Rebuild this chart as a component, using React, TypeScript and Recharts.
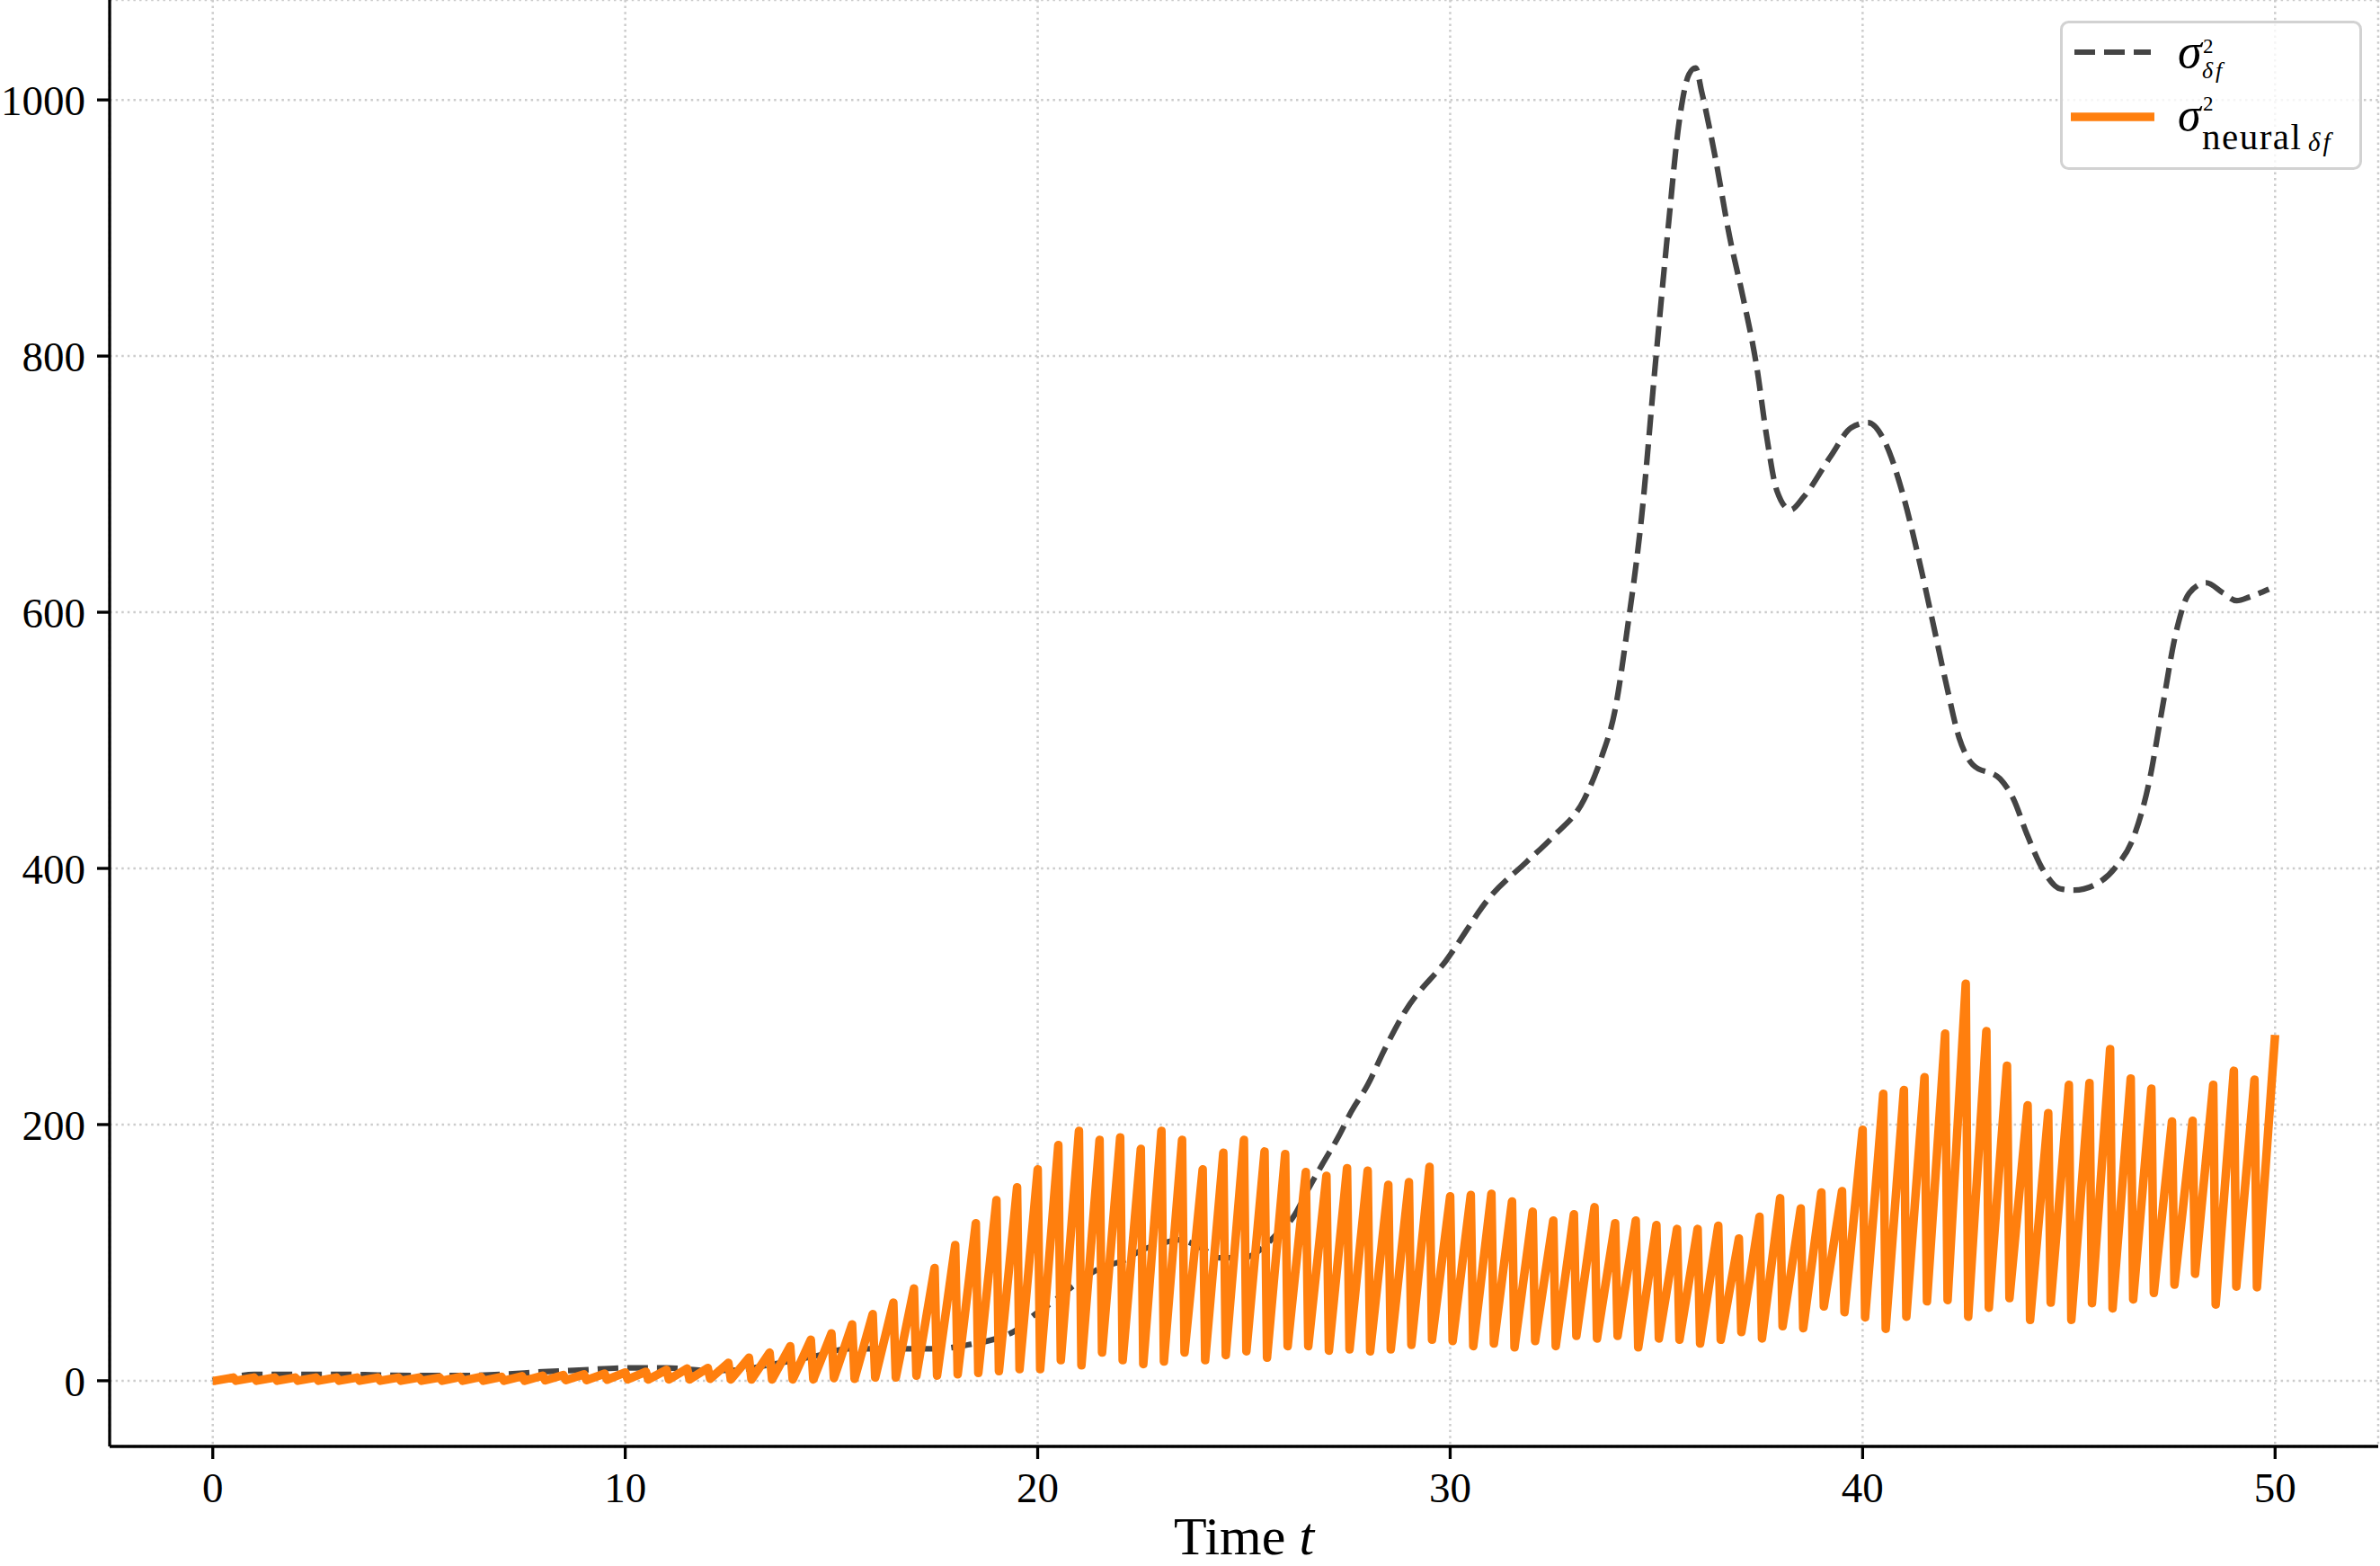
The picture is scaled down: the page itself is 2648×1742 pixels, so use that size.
import React from 'react';
import { LineChart, Line, XAxis, YAxis, CartesianGrid, Legend, Label } from 'recharts';

// ---- data ----
// orange series: sawtooth, one peak every 0.5 time units, sharp drop right after each peak
const orangePeakStep = 0.5;
const orangeDropDelay = 0.06;
const orangePeaks = [
  0, 2.5, 2.5, 2.5, 2.5, 2.5, 2.5, 2.5, 2.5, 2.5, 2.5, 2.5, 3, 3, 3, 3.5, 4, 4.5, 5, 5.5,
  6.5, 7, 8.5, 9.5, 10, 14, 18, 22, 27, 32, 37, 44, 52, 61, 72, 88, 106, 123, 141, 151,
  165, 184, 195, 188, 190, 181, 195, 188, 165, 178, 188, 179, 177, 163, 160, 166, 164, 153, 155, 167,
  144, 145, 146, 140, 132, 125, 130, 135.5, 123, 125, 121.5, 118.5, 118.5, 121, 111, 128, 142.5, 134.5, 147, 148,
  196, 224, 227, 237, 271, 310, 273, 246, 215, 209, 231, 232.5, 259, 236, 228, 202.5, 203, 231, 242, 235,
  270,
];
const orangeTroughs = [
  0, 0, 0, 0, 0, 0, 0, 0, 0, 0, 0, 0, 0, 0, 0, 0, 0.3, 0.5, 0.5, 0.8,
  1, 1, 1, 1, 1.5, 1, 1, 1, 1, 1, 2, 1.5, 2.5, 2.5, 4, 4, 5, 6, 7.5, 9,
  9, 16, 12, 22, 16, 13, 15, 22, 16, 20, 23, 18, 27, 27, 23.5, 24.5, 23, 24.5, 28, 32,
  31, 27, 29, 26, 31, 27, 35, 33, 35, 26, 33, 32, 29, 32, 38, 33, 42.5, 41, 58, 53.5,
  49.5, 40.5, 50, 62, 63, 50, 57, 64.5, 47.5, 61, 47.5, 60.5, 56.5, 63.5, 68.5, 75, 83.5, 59.5, 73.5, 73,
];

// dashed grey series
const grayTimes = [
  0, 0.5, 1, 2, 3, 4, 5, 6, 7, 8, 9, 10, 11, 12, 12.5, 13.6, 14.7, 15.4, 16.2, 16.9,
  17.6, 18.3, 19.1, 19.4, 19.9, 20.3, 20.9, 21.4, 21.8, 22.1, 22.4, 23.1, 23.4, 24.0, 24.4, 25.0, 25.5, 25.75, 26.2, 26.55,
  26.9, 27.3, 27.6, 28.0, 28.4, 28.9, 29.9, 31.0, 31.85, 32.5, 33.25, 33.66, 34.0, 34.3, 34.64, 34.97, 35.3, 35.54, 35.79, 35.95,
  36.1, 36.44, 36.77, 37.1, 37.43, 37.67, 37.92, 38.25, 38.57, 39.23, 39.72, 40.13, 40.54, 40.95, 41.36, 41.69, 42.02, 42.34, 42.67, 43.33,
  43.66, 43.98, 44.39, 44.8, 45.13, 45.62, 46.11, 46.6, 46.93, 47.26, 47.59, 47.92, 48.33, 48.74, 49.07, 49.39, 49.85,
];
const grayValues = [
  0, 3, 5, 5, 5, 4.5, 4, 4, 5, 7, 8.5, 10, 10, 8, 8, 13, 20, 25, 25, 25,
  25, 28, 34, 38, 51, 60, 75, 86, 91, 94, 100, 108, 110, 103, 96, 96, 105, 113, 128, 149,
  169, 191, 210, 231, 258, 288, 328, 379, 405, 425, 454, 486, 524, 588, 674, 792, 905, 980, 1020, 1025,
  1006, 953, 894, 846, 792, 738, 695, 680, 690, 722, 744, 748, 733, 695, 642, 594, 545, 502, 481, 470,
  454, 427, 398, 384, 383, 387, 400, 427, 465, 524, 583, 615, 623, 615, 609, 612, 618,
];

const xTicks = [0, 10, 20, 30, 40, 50];
const yTicks = [0, 200, 400, 600, 800, 1000];
const xDomain = [-2.5, 52.5];
const yDomain = [-51.3, 1078];

// ---- tables for the library ----
const orangeData: { t: number; v: number }[] = [];
orangePeaks.forEach((p, k) => {
  orangeData.push({ t: k * orangePeakStep, v: p });
  if (k < orangeTroughs.length) {
    orangeData.push({ t: k * orangePeakStep + orangeDropDelay, v: orangeTroughs[k] });
  }
});
const grayData = grayTimes.map((t, i) => ({ t, v: grayValues[i] }));

const SERIF = '"Liberation Serif", "DejaVu Serif", serif';
const GRAY = '#444444';
const ORANGE = '#ff7f0e';

const LegendBox = () => (
  <svg width={340} height={170} style={{ overflow: 'visible', display: 'block' }}>
    <rect x={1.5} y={1.5} width={333} height={163} rx={8} ry={8} fill="#ffffff" fillOpacity={0.8} stroke="#d2d2d2" strokeWidth={3} />
    <line x1={16} x2={101} y1={35} y2={35} stroke={GRAY} strokeWidth={6.2} strokeDasharray="23 10" />
    <line x1={12} x2={105} y1={107} y2={107} stroke={ORANGE} strokeWidth={9.5} />
    <g fontFamily={SERIF} fill="#000">
      <text x={131} y={52} fontSize={54} fontStyle="italic">
        σ
        <tspan x={159} y={36} fontSize={23} fontStyle="normal">2</tspan>
        <tspan x={158} y={64} fontSize={26} letterSpacing={3}>δf</tspan>
      </text>
      <text x={131} y={122} fontSize={52} fontStyle="italic">
        σ
        <tspan x={159} y={100} fontSize={23} fontStyle="normal">2</tspan>
        <tspan x={158} y={143} fontSize={41} fontStyle="normal" letterSpacing={1.5}>neural</tspan>
        <tspan x={276} y={145} fontSize={29} letterSpacing={3}>δf</tspan>
      </text>
    </g>
  </svg>
);

const XLabel = (props: any) => {
  const vb = props.viewBox || { x: 122, y: 1609, width: 2524, height: 133 };
  return (
    <text x={vb.x + vb.width / 2} y={vb.y + 120} textAnchor="middle" fontFamily={SERIF} fontSize={60} fill="#000">
      Time <tspan fontStyle="italic">t</tspan>
    </text>
  );
};

export default function App() {
  const tickStyle = { fill: '#000', fontSize: 47, fontFamily: SERIF };
  return (
    <div style={{ position: 'absolute', left: 0, top: 0, width: 2648, height: 1742, background: '#fff', fontFamily: SERIF }}>
      <LineChart width={2648} height={1742} margin={{ top: 0, right: 2, bottom: 0, left: 0 }}>
        <CartesianGrid stroke="#cccccc" strokeWidth={2.5} strokeDasharray="2.5 4.1" />
        <XAxis
          dataKey="t"
          type="number"
          domain={xDomain}
          ticks={xTicks}
          allowDataOverflow
          height={133}
          axisLine={{ stroke: '#000', strokeWidth: 3.3 }}
          tickLine={{ stroke: '#000', strokeWidth: 3.3 }}
          tickSize={14}
          tickMargin={15}
          tick={tickStyle}
        >
          <Label content={<XLabel />} />
        </XAxis>
        <YAxis
          type="number"
          domain={yDomain}
          ticks={yTicks}
          allowDataOverflow
          width={122}
          axisLine={{ stroke: '#000', strokeWidth: 3.3 }}
          tickLine={{ stroke: '#000', strokeWidth: 3.3 }}
          tickSize={14}
          tickMargin={13}
          tick={tickStyle}
        />
        <Line
          data={grayData}
          dataKey="v"
          type="monotone"
          stroke={GRAY}
          strokeWidth={6.2}
          strokeDasharray="23 10"
          dot={false}
          activeDot={false}
          isAnimationActive={false}
        />
        <Line
          data={orangeData}
          dataKey="v"
          type="linear"
          stroke={ORANGE}
          strokeWidth={9.5}
          strokeLinejoin="round"
          dot={false}
          activeDot={false}
          isAnimationActive={false}
        />
        <Legend
          layout="horizontal"
          verticalAlign="middle"
          align="center"
          content={() => <LegendBox />}
          wrapperStyle={{ position: 'absolute', left: 2292, top: 23, width: 340, height: 170 }}
        />
      </LineChart>
    </div>
  );
}
